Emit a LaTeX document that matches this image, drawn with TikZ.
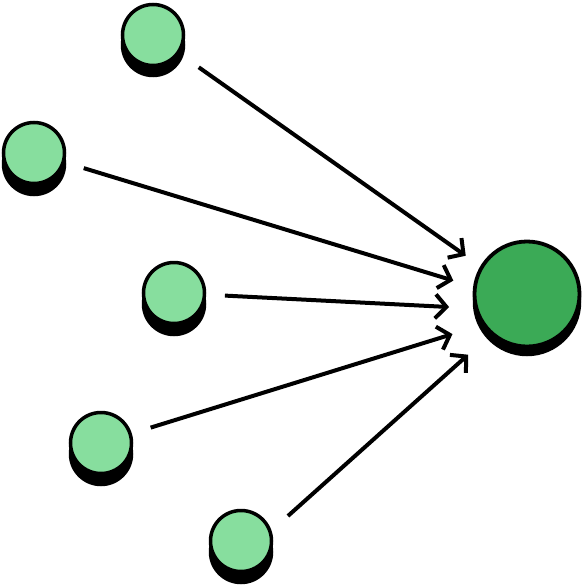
\documentclass[tikz,border=0pt]{standalone}
\usetikzlibrary{arrows.meta,calc}
\definecolor{lightg}{HTML}{87DE9E}
\definecolor{darkg}{HTML}{3BAA56}
\tikzset{
  small/.style={circle, draw=black, line width=3.5pt, fill=lightg, minimum size=61pt, inner sep=0pt},
  big/.style={circle, draw=black, line width=3.8pt, fill=darkg, minimum size=105pt, inner sep=0pt},
  shad/.style={circle, fill=black, inner sep=0pt},
  arr/.style={line width=4pt, -{Straight Barb[length=11pt,width=24pt]}}
}
\begin{document}
\begin{tikzpicture}[x=1pt,y=-1pt]
\useasboundingbox (0,0) rectangle (584,586);
% shadows
\node[shad, minimum size=64.5pt] at (153,45) {};
\node[shad, minimum size=64.5pt] at (34,164) {};
\node[shad, minimum size=64.5pt] at (174,304) {};
\node[shad, minimum size=64.5pt] at (101,454) {};
\node[shad, minimum size=64.5pt] at (241,552) {};
\node[shad, minimum size=108.5pt] at (527,302) {};
% nodes
\node[small] (n1) at (153,35) {};
\node[small] (n2) at (34,153) {};
\node[small] (n3) at (174,293) {};
\node[small] (n4) at (101,443) {};
\node[small] (n5) at (241,541) {};
\node[big] (t) at (527,294) {};
\draw[arr, shorten <=56pt, shorten >=75pt] (n1.center) -- ($(t.center)+(0,5)$);
\draw[arr, shorten <=52pt, shorten >=77pt] (n2.center) -- ($(t.center)+(0,9)$);
\draw[arr, shorten <=51pt, shorten >=78pt] (n3.center) -- ($(t.center)+(0,17)$);
\draw[arr, shorten <=52pt, shorten >=78pt] (n4.center) -- ($(t.center)+(0,17)$);
\draw[arr, shorten <=63pt, shorten >=79pt] ($(n5.center)+(0,17)$) -- ($(t.center)+(0,8)$);
\end{tikzpicture}
\end{document}
